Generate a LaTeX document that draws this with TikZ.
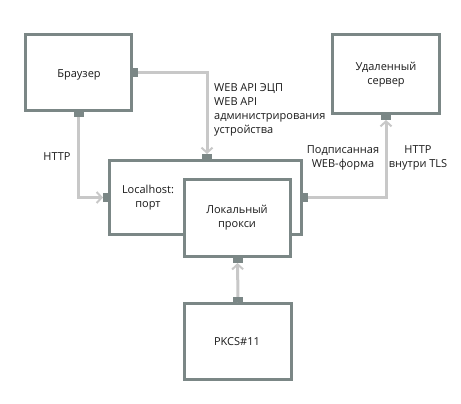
\documentclass[tikz,border=0pt]{standalone}
\usepackage{fontspec}
\setmainfont{Open Sans}
\usetikzlibrary{arrows.meta}
\definecolor{boxgray}{HTML}{7B8786}
\definecolor{linegray}{HTML}{C8C8C8}
\definecolor{txt}{HTML}{1A1A1A}
\tikzset{
  box/.style={draw=boxgray, line width=3pt, fill=white, inner sep=0pt},
  conn/.style={draw=linegray, line width=3pt, -{Straight Barb[length=5pt,width=11pt,line width=2pt]}, shorten >=5pt},
  porth/.style={fill=boxgray, minimum width=10pt, minimum height=5pt, inner sep=0pt},
  portv/.style={fill=boxgray, minimum width=5pt, minimum height=9pt, inner sep=0pt},
  lbl/.style={text=txt, font=\fontsize{11}{14}\selectfont, inner sep=0pt, align=center},
}
\begin{document}
\begin{tikzpicture}[x=1pt,y=-1pt]
\useasboundingbox (0,0) rectangle (461,404);
\node[box, minimum width=106pt, minimum height=76pt] (browser) at (78.5,72.5) {};
\node[box, minimum width=107pt, minimum height=79pt] (server) at (386,74) {};
\node[box, minimum width=192pt, minimum height=74pt] (host) at (205.5,197.5) {};
\node[box, minimum width=106pt, minimum height=77pt] (proxy) at (237.5,218) {};
\node[box, minimum width=107pt, minimum height=76pt] (pkcs) at (238,341.5) {};

\node[lbl] (tbrowser) at (79,75) {Браузер};
\node[lbl] (tserver) at (386,75) {Удаленный\\сервер};
\node[lbl] (thost) at (148,198) {Localhost:\\порт};
\node[lbl] (tproxy) at (237,218) {Локальный\\прокси};
\node[lbl] (tpkcs) at (237,342) {PKCS\#11};

\coordinate (hosttop) at ([xshift=1.5pt]host.north);
\draw[conn] (browser.east) -| (hosttop);
\draw[conn] (browser.south) |- (host.west);
\draw[conn] (host.east) -| (server.south);
\draw[conn] (pkcs.north) -- (proxy.south);

\node[portv, anchor=west] (p1) at (browser.east) {};
\node[porth, anchor=north] (p2) at (browser.south) {};
\node[porth, anchor=south] (p3) at (hosttop) {};
\node[portv, anchor=east] (p4) at (host.west) {};
\node[portv, anchor=west] (p5) at (host.east) {};
\node[porth, anchor=north] (p6) at (server.south) {};
\node[porth, anchor=north] (p7) at (proxy.south) {};
\node[porth, anchor=south] (p8) at (pkcs.north) {};

\node[lbl, align=left, anchor=north west] (tapi) at (214,83) {WEB API ЭЦП\\WEB API\\администрирования\\устройства};
\node[lbl] (thttp) at (57,157) {HTTP};
\node[lbl] (tsigned) at (343,158) {Подписанная\\WEB-форма};
\node[lbl] (ttls) at (418,158) {HTTP\\внутри TLS};
\end{tikzpicture}
\end{document}
